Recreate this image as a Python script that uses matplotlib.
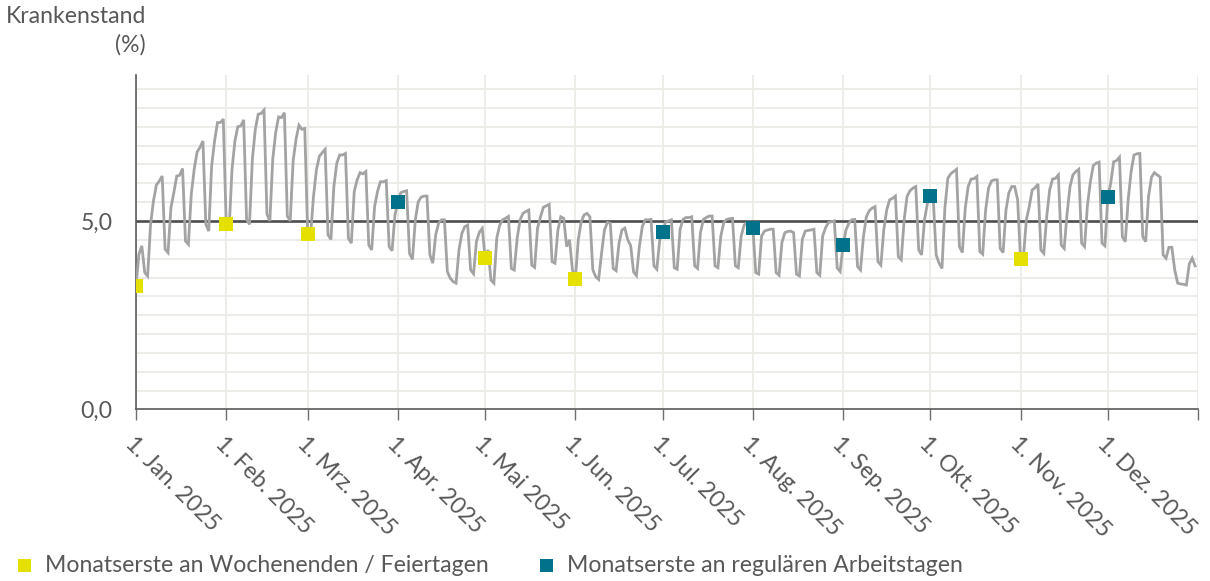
import matplotlib
matplotlib.use("Agg")
import matplotlib.pyplot as plt
import matplotlib.dates as mdates
from matplotlib.patches import Rectangle
import numpy as np
import pandas as pd

# ---- data: daily sick-leave rate (%) 2025 ----
jan = [3.27, 4.12, 4.34, 3.63, 3.54, 4.90, 5.53, 5.95, 6.06, 6.19, 4.25, 4.16, 5.35, 5.75, 6.19, 6.21,
       6.39, 4.47, 4.38, 5.71, 6.37, 6.83, 6.95, 7.12, 4.91, 4.73, 6.46, 7.12, 7.61, 7.61, 7.70]
feb = [4.92, 4.78, 6.37, 7.12, 7.50, 7.52, 7.68, 5.04, 4.91, 6.64, 7.43, 7.83, 7.85, 7.94, 5.18, 5.00,
       6.64, 7.34, 7.76, 7.74, 7.87, 5.13, 5.00, 6.59, 7.17, 7.54, 7.43, 7.45]
mar = [4.66, 4.62, 5.65, 6.35, 6.71, 6.81, 6.90, 4.63, 4.51, 5.91, 6.53, 6.75, 6.75, 6.79, 4.54, 4.41,
       5.78, 6.09, 6.28, 6.25, 6.31, 4.36, 4.23, 5.38, 5.78, 6.04, 6.04, 6.07, 4.32, 4.21, 5.16]
apr = [5.50, 5.75, 5.78, 5.80, 4.14, 3.98, 5.03, 5.51, 5.63, 5.66, 5.66, 4.10, 3.88, 4.63, 4.94, 5.03,
       5.03, 3.66, 3.48, 3.39, 3.35, 4.23, 4.67, 4.85, 4.89, 3.70, 3.60, 4.45, 4.70, 4.80]
may = [4.02, 4.23, 3.43, 3.35, 4.55, 4.89, 5.03, 5.07, 5.12, 3.74, 3.70, 4.54, 5.03, 5.20, 5.25, 5.29,
       3.83, 3.77, 4.81, 5.10, 5.36, 5.40, 5.44, 3.92, 3.88, 4.76, 5.11, 5.07, 4.32, 4.50, 3.70]
jun = [3.46, 4.50, 4.98, 5.16, 5.20, 5.11, 3.70, 3.52, 3.45, 4.14, 4.76, 4.96, 4.94, 3.74, 3.68, 4.41,
       4.76, 4.81, 4.50, 4.35, 3.65, 3.55, 4.32, 4.85, 5.03, 5.03, 5.04, 3.81, 3.72, 4.50]
jul = [4.72, 4.97, 5.00, 5.03, 3.76, 3.72, 4.78, 5.04, 5.09, 5.09, 5.11, 3.81, 3.74, 4.69, 5.04, 5.09,
       5.13, 5.13, 3.81, 3.76, 4.60, 4.96, 5.04, 5.06, 5.07, 3.81, 3.76, 4.60, 4.89, 4.96, 4.97]
aug = [4.82, 3.63, 3.59, 4.60, 4.73, 4.76, 4.78, 4.78, 3.63, 3.56, 4.43, 4.69, 4.72, 4.73, 4.69, 3.59,
       3.54, 4.51, 4.73, 4.75, 4.76, 4.78, 3.63, 3.56, 4.60, 4.82, 4.96, 4.98, 5.00, 3.75, 3.66]
sep = [4.35, 4.76, 4.94, 5.03, 5.04, 3.79, 3.70, 4.58, 5.11, 5.27, 5.34, 5.38, 3.92, 3.83, 4.76, 5.29,
       5.56, 5.60, 5.66, 4.05, 3.97, 5.03, 5.65, 5.80, 5.87, 5.91, 4.23, 4.10, 5.03, 5.47]
okt = [5.66, 5.60, 4.10, 3.88, 3.74, 5.34, 6.13, 6.25, 6.31, 6.37, 4.32, 4.16, 5.34, 5.91, 6.11, 6.12,
       6.18, 4.19, 4.12, 5.29, 5.87, 6.06, 6.09, 6.09, 4.27, 4.16, 5.29, 5.75, 5.91, 5.91, 5.56]
nov = [3.98, 4.05, 5.03, 5.38, 5.82, 5.88, 5.98, 4.23, 4.14, 5.11, 5.82, 6.11, 6.13, 6.22, 4.36, 4.27,
       5.20, 5.91, 6.22, 6.31, 6.37, 4.41, 4.32, 5.42, 6.04, 6.47, 6.53, 6.56, 4.41, 4.34]
dez = [5.63, 6.00, 6.57, 6.60, 6.69, 4.58, 4.45, 5.56, 6.31, 6.75, 6.78, 6.79, 4.58, 4.45, 5.65, 6.16,
       6.28, 6.22, 6.16, 4.10, 4.01, 4.30, 4.30, 3.70, 3.35, 3.33, 3.32, 3.30, 3.86, 4.01, 3.81]

values = jan + feb + mar + apr + may + jun + jul + aug + sep + okt + nov + dez
dates = pd.date_range("2025-01-01", "2025-12-31", freq="D")

month_labels = ["1. Jan. 2025", "1. Feb. 2025", "1. Mrz. 2025", "1. Apr. 2025", "1. Mai 2025",
                "1. Jun. 2025", "1. Jul. 2025", "1. Aug. 2025", "1. Sep. 2025", "1. Okt. 2025",
                "1. Nov. 2025", "1. Dez. 2025"]
# kind of each month's first day: "frei" = weekend / holiday, "arbeit" = regular working day
first_kind = ["frei", "frei", "frei", "arbeit", "frei", "frei",
              "arbeit", "arbeit", "arbeit", "arbeit", "frei", "arbeit"]
legend_labels = ["Monatserste an Wochenenden / Feiertagen", "Monatserste an regulären Arbeitstagen"]

# ---- styling ----
FONT = ["Lato", "DejaVu Sans"]
TXT = "#585858"
YELLOW = "#E6E000"
TEAL = "#00728A"
LINE = "#A3A3A3"
GRID = "#EDEBE6"

plt.rcParams["font.family"] = FONT
plt.rcParams["font.weight"] = "normal"
FS = 16.6

series = pd.Series(values, index=dates)
month_firsts = pd.date_range("2025-01-01", periods=12, freq="MS")

fig = plt.figure(figsize=(12.1, 5.81), dpi=100)
ax = fig.add_axes([0.1124, 0.2952, 0.8777, 0.5757])

x = mdates.date2num(series.index.to_pydatetime())
ax.plot(x, series.values, color=LINE, lw=2.0, zorder=3, solid_joinstyle="miter")
ax.axhline(5.0, color="#4D4D4D", lw=1.9, zorder=2)

mx = mdates.date2num(month_firsts.to_pydatetime())
my = series.loc[month_firsts].values
for xi, yi, k in zip(mx, my, first_kind):
    ax.plot([xi], [yi], marker="s", ms=9.6, mew=0, color=YELLOW if k == "frei" else TEAL, zorder=4)

end = mdates.date2num(pd.Timestamp("2026-01-01").to_pydatetime())
ax.set_xlim(mx[0], end)
ax.set_ylim(0, 8.87)

ax.set_xticks(list(mx) + [end])
ax.set_xticklabels(month_labels + [""], rotation=-45, ha="left", va="top",
                   rotation_mode="anchor", fontsize=FS, color=TXT)
ax.tick_params(axis="x", length=8, width=1.0, color="#6E6E6E", pad=9)

ax.set_yticks([0, 5])
ax.set_yticklabels(["0,0", "5,0"], fontsize=FS, color=TXT)
ax.set_yticks(np.arange(0.5, 8.9, 0.5), minor=True)
ax.tick_params(axis="y", which="both", length=0, pad=17)

ax.grid(axis="x", which="major", color=GRID, lw=1.3, zorder=0)
ax.grid(axis="y", which="minor", color=GRID, lw=1.3, zorder=0)
ax.grid(axis="y", which="major", visible=False)

for s in ["top", "right"]:
    ax.spines[s].set_visible(False)
for s in ["left", "bottom"]:
    ax.spines[s].set_color("#5A5A5A")
    ax.spines[s].set_linewidth(1.2)

fig.text(146 / 1210, 1 - 6 / 581, "Krankenstand\n(%)", ha="right", va="top",
         multialignment="right", fontsize=FS, color=TXT, linespacing=1.4)

# legend
for (px, col, lab, tx) in [(18, YELLOW, legend_labels[0], 45), (540, TEAL, legend_labels[1], 567)]:
    fig.add_artist(Rectangle((px / 1210, 1 - 572 / 581), 13 / 1210, 13 / 581,
                             transform=fig.transFigure, color=col, lw=0))
    fig.text(tx / 1210, 1 - 565 / 581, lab, ha="left", va="center", fontsize=FS, color=TXT)

fig.savefig("out.png", dpi=100)
